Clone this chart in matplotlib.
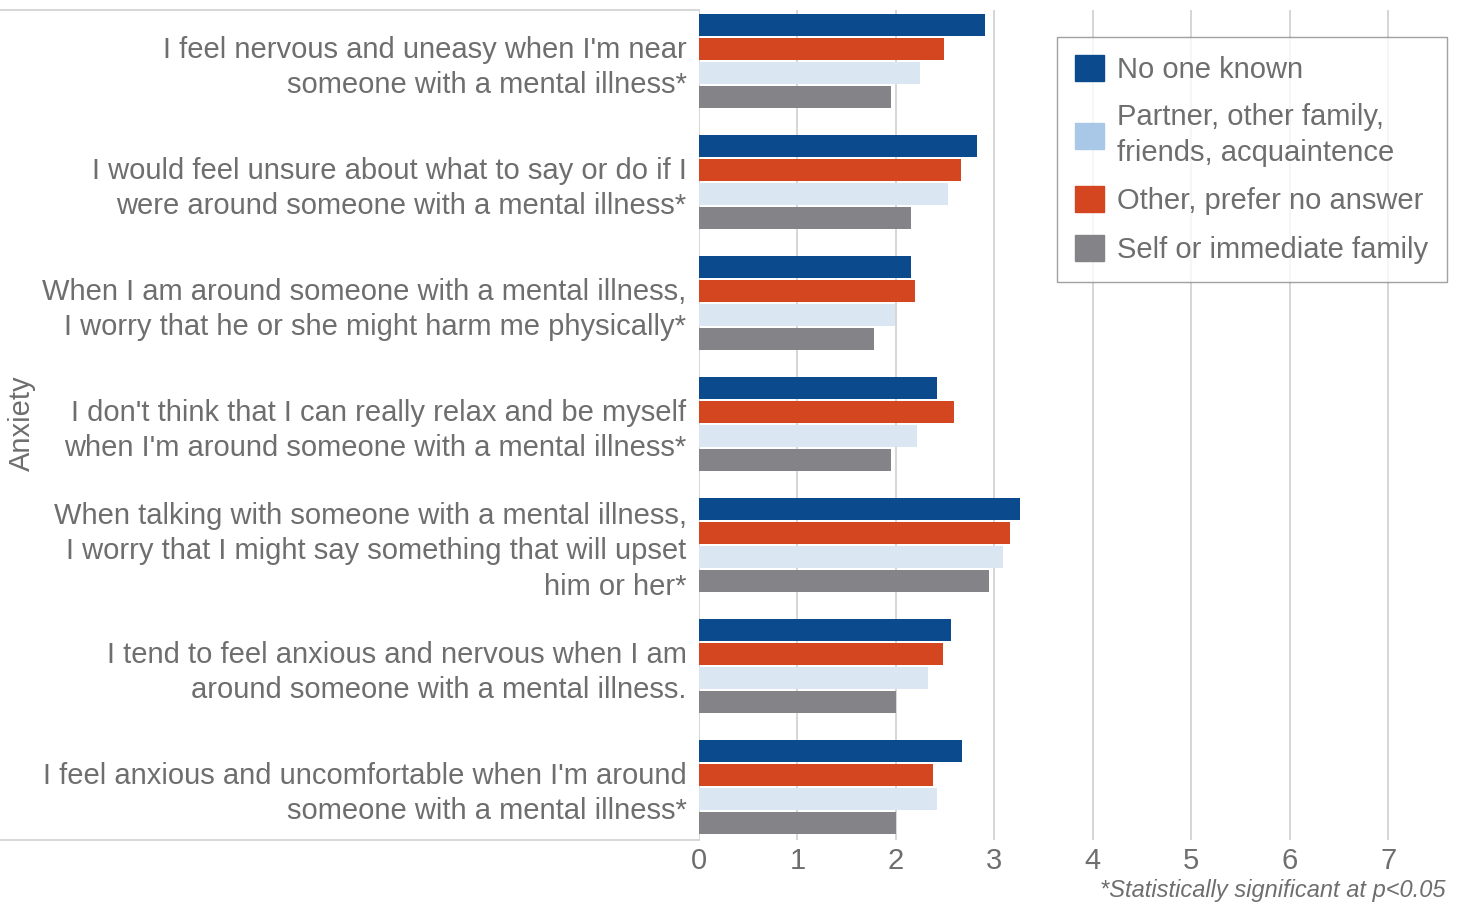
import matplotlib
matplotlib.use("Agg")
import matplotlib.pyplot as plt
from matplotlib.patches import Patch
from matplotlib.lines import Line2D
import numpy as np

plt.rcParams['font.family'] = ['Liberation Sans', 'DejaVu Sans']

questions = [
    "I feel nervous and uneasy when I'm near\nsomeone with a mental illness*",
    "I would feel unsure about what to say or do if I\nwere around someone with a mental illness*",
    "When I am around someone with a mental illness,\nI worry that he or she might harm me physically*",
    "I don't think that I can really relax and be myself\nwhen I'm around someone with a mental illness*",
    "When talking with someone with a mental illness,\nI worry that I might say something that will upset\nhim or her*",
    "I tend to feel anxious and nervous when I am\naround someone with a mental illness.",
    "I feel anxious and uncomfortable when I'm around\nsomeone with a mental illness*",
]
no_one_known = [2.91, 2.82, 2.15, 2.42, 3.26, 2.56, 2.67]
other_no_answer = [2.49, 2.66, 2.19, 2.59, 3.16, 2.48, 2.38]
partner_family = [2.24, 2.53, 1.99, 2.21, 3.09, 2.33, 2.42]
self_immediate = [1.95, 2.15, 1.78, 1.95, 2.95, 2.00, 2.00]

navy = '#0b4a8c'
red = '#d4461f'
light = '#dbe6f3'
light_leg = '#a9c7e6'
gray = '#848488'
txt = '#6e6e6e'

fig = plt.figure(figsize=(14.67, 9.05), dpi=100)
ax = fig.add_axes([699 / 1467, 1 - 840 / 905, 761 / 1467, 830 / 905])

y = np.arange(len(questions))
step = 0.198
h = 0.18
series = [no_one_known, other_no_answer, partner_family, self_immediate]
colors = [navy, red, light, gray]
for k, (vals, c) in enumerate(zip(series, colors)):
    ax.barh(y + (k - 1.5) * step, vals, height=h, color=c, zorder=3)

ax.set_xlim(0, 7.73)
ax.set_ylim(6.44, -0.42)
ax.set_xticks(range(8))
ax.tick_params(axis='x', length=0, labelsize=21, labelcolor=txt, pad=5)
ax.set_yticks(y)
ax.set_yticklabels(questions, fontsize=21, color=txt, linespacing=1.33)
ax.tick_params(axis='y', length=0, pad=9)
ax.grid(axis='x', color='#d0d0d0', linewidth=1.2, zorder=0)
for s in ax.spines.values():
    s.set_visible(False)

# separator lines on the left side
fig.add_artist(Line2D([0, 699 / 1467], [1 - 10 / 905] * 2, color='#d0d0d0', lw=1.2))
fig.add_artist(Line2D([0, 699 / 1467], [1 - 840 / 905] * 2, color='#d0d0d0', lw=1.2))

fig.text(22 / 1467, 1 - 423 / 905, "Anxiety", rotation=90, fontsize=21, color=txt,
         ha='center', va='center')

handles = [Patch(color=navy), Patch(color=light_leg), Patch(color=red), Patch(color=gray)]
labels = ["No one known", "Partner, other family,\nfriends, acquaintence",
          "Other, prefer no answer", "Self or immediate family"]
leg = ax.legend(handles, labels, loc='upper left', bbox_to_anchor=(1057 / 1467, 1 - 37 / 905),
                bbox_transform=fig.transFigure, fontsize=21, frameon=True, fancybox=False,
                edgecolor='#8a8a8a', handlelength=1.0, handleheight=1.0, handletextpad=0.45,
                labelspacing=0.66, borderpad=0.62, borderaxespad=0, labelcolor=txt)
leg.get_frame().set_linewidth(1.0)
for t in leg.get_texts():
    t.set_linespacing(1.35)

fig.text(1446 / 1467, 1 - 890 / 905, "*Statistically significant at p<0.05", fontsize=17,
         style='italic', color=txt, ha='right', va='center')

fig.savefig("out.png", dpi=100)
